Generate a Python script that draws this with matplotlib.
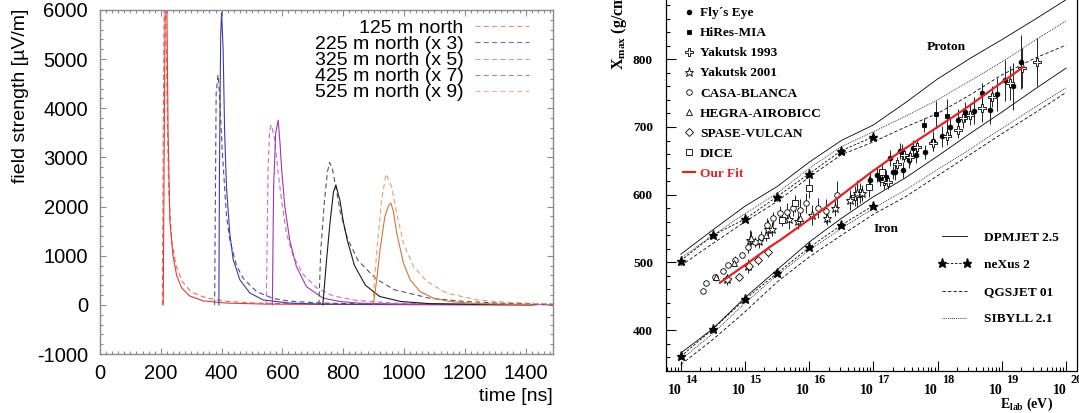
import numpy as np
import matplotlib
matplotlib.use("Agg")
import matplotlib.pyplot as plt
from matplotlib import font_manager
from matplotlib.lines import Line2D
from matplotlib.ticker import MultipleLocator, FixedLocator, LogLocator, NullFormatter

W, H = 1079, 413
PX = 72.0 / 100  # points per pixel (dpi 100)

# ---------------- left panel: radio pulses, time [ns] / field strength [uV/m] ----------------
pulse_labels = ["125 m north", "225 m north (x 3)", "325 m north (x 5)",
                "425 m north (x 7)", "525 m north (x 9)"]

t125_solid = [208, 212, 216, 220, 224, 230, 240, 252, 268, 295, 340, 420, 550, 800, 1100, 1425]
v125_solid = [0, 4000, 7600, 6000, 3500, 1700, 1000, 600, 350, 180, 80, 35, 15, 8, 4, 2]
t125_dash = [205, 208, 212, 216, 220, 226, 236, 250, 270, 300, 350, 420, 520, 700, 1000, 1490]
v125_dash = [0, 3500, 7000, 6400, 4200, 2300, 1300, 800, 480, 260, 140, 70, 35, 15, 8, 4]

t225_solid = [391, 393, 397, 400, 405, 410, 416, 427, 438, 460, 493, 537, 624, 734, 900, 1425]
v225_solid = [0, 2800, 5500, 5950, 5200, 3500, 2400, 1450, 920, 510, 240, 100, 35, 15, 8, 4]
t225_dash = [377, 382, 388, 393, 402, 416, 427, 449, 471, 515, 570, 624, 734, 900, 1200, 1490]
v225_dash = [0, 4300, 4680, 4300, 3150, 1800, 1320, 800, 540, 270, 130, 75, 36, 16, 8, 5]

t325_solid = [567, 571, 578, 586, 592, 597, 608, 624, 646, 679, 734, 790, 850, 1000, 1425]
v325_solid = [0, 2400, 3500, 3760, 3300, 2800, 2000, 1320, 780, 370, 136, 68, 35, 10, 3]
t325_dash = [547, 553, 558, 564, 575, 586, 597, 613, 635, 668, 712, 767, 844, 954, 1100, 1490]
v325_dash = [0, 2800, 3560, 3660, 3350, 2680, 2140, 1460, 1000, 620, 350, 180, 90, 40, 15, 5]

t425_solid = [733, 745, 757, 768, 776, 790, 800, 814, 837, 873, 920, 990, 1084, 1250, 1425]
v425_solid = [0, 900, 1700, 2300, 2440, 2100, 1700, 1300, 800, 400, 170, 68, 25, 10, 4]
t425_dash = [720, 726, 738, 748, 755, 765, 777, 790, 814, 849, 908, 967, 1084, 1202, 1319, 1490]
v425_dash = [0, 1100, 2100, 2700, 2900, 2750, 2350, 1900, 1350, 900, 530, 310, 135, 68, 34, 15]

t525_solid = [899, 910, 921, 937, 950, 957, 965, 976, 998, 1020, 1053, 1097, 1152, 1240, 1350, 1425]
v525_solid = [0, 500, 1120, 1800, 2030, 2070, 1900, 1460, 850, 510, 270, 136, 68, 25, 10, 5]
t525_dash = [897, 904, 910, 926, 941, 959, 976, 998, 1031, 1075, 1141, 1240, 1350, 1490]
v525_dash = [0, 600, 1050, 2140, 2665, 2410, 1865, 1250, 780, 475, 237, 102, 47, 20]

solid_colors = ["#e23b3b", "#3d3d9e", "#9a3ca6", "#1a1a1a", "#d2753a"]
dash_colors = ["#e46a5a", "#4a4aa8", "#cc66cc", "#555555", "#e2a070"]
legend_colors = ["#e88a80", "#6a6ab8", "#d88ad8", "#909090", "#e8b090"]

time_ticks = [0, 200, 400, 600, 800, 1000, 1200, 1400]
field_ticks = [-1000, 0, 1000, 2000, 3000, 4000, 5000, 6000]

# ---------------- right panel: Xmax vs energy (log10 E / g cm^-2) ----------------
fly_logE = [16.94, 17.05, 17.10, 17.20, 17.26, 17.31, 17.34, 17.42, 17.46, 17.56, 17.62, 17.67,
            17.81, 17.93, 18.07, 18.20, 18.31, 18.43, 18.56, 18.69, 18.82, 18.93, 19.05, 19.18, 19.30]
fly_X = [622, 629, 623, 626, 654, 633, 634, 664, 637, 651, 669, 659,
         663, 679, 686, 700, 711, 722, 724, 750, 725, 748, 769, 760, 796]
fly_err = [12, 10, 10, 10, 12, 10, 12, 12, 12, 12, 12, 12,
           10, 15, 15, 15, 15, 15, 20, 15, 20, 25, 30, 35, 40]

hires_logE = [17.45, 17.78, 17.97, 18.14]
hires_X = [663, 703, 719, 716]
hires_err = [12, 10, 20, 25]

yak93_logE = [16.71, 16.79, 17.16, 17.23, 17.36, 17.47, 17.57, 17.68, 17.93, 18.14,
              18.32, 18.40, 18.51, 18.69, 18.84, 19.13, 19.31, 19.55]
yak93_X = [598, 602, 620, 619, 646, 659, 656, 671, 676, 686,
           696, 713, 718, 728, 745, 765, 787, 796]
yak93_err = [15, 15, 12, 10, 10, 10, 10, 10, 12, 12, 12, 15, 15, 20, 15, 25, 30, 35]

yak01_logE = [14.72, 15.05, 15.08, 15.22, 15.36, 15.42, 15.68, 15.83, 16.05, 16.27, 16.40, 16.63, 16.74, 16.82]
yak01_X = [475, 495, 533, 531, 550, 549, 564, 561, 570, 565, 580, 592, 602, 603]
yak01_err = [8, 10, 15, 10, 12, 10, 15, 12, 15, 10, 12, 15, 20, 12]

casa_logE = [14.34, 14.39, 14.54, 14.65, 14.74, 14.85, 14.95, 15.04, 15.15, 15.25,
             15.34, 15.44, 15.55, 15.65, 15.75, 15.85, 15.95, 16.14, 16.26, 16.44]
casa_X = [458, 470, 479, 488, 496, 504, 511, 522, 530, 537,
          555, 565, 573, 575, 580, 578, 588, 580, 576, 600]
casa_err = [0, 0, 0, 0, 0, 5, 5, 8, 8, 10, 10, 10, 10, 12, 12, 15, 15, 15, 18, 20]

hegra_logE = [14.55, 14.83, 15.10, 15.32, 15.86]
hegra_X = [478, 499, 536, 541, 565]
hegra_err = [5, 5, 10, 10, 12]

spase_logE = [14.72, 14.90, 15.06, 15.21, 15.36]
spase_X = [475, 478, 494, 504, 516]
spase_err = [5, 5, 5, 8, 8]

dice_logE = [15.57, 15.78, 16.00, 16.93, 17.13]
dice_X = [563, 587, 610, 612, 633]
dice_err = [10, 12, 15, 15, 12]

fit_logE = [14.61, 15.00, 15.39, 15.55, 16.17, 16.95, 17.41, 18.40, 19.34]
fit_X = [470, 496, 523, 533, 575, 632, 663, 725, 789]

model_logE = [14, 14.5, 15, 15.5, 16, 16.5, 17, 17.5, 18, 18.5, 19, 19.5, 20]
dpm_p = [512, 548, 583, 612, 648, 680, 703, 736, 771, 801, 829, 858, 888]
dpm_fe = [366, 402, 448, 489, 530, 565, 597, 625, 657, 690, 722, 755, 787]
sib_p = [506, 540, 572, 602, 639, 671, 693, 716, 740, 768, 796, 827, 857]
sib_fe = [356, 395, 440, 481, 518, 550, 580, 607, 637, 667, 698, 728, 758]
qgs_p = [495, 528, 560, 590, 626, 659, 678, 700, 720, 747, 777, 801, 821]
qgs_fe = [349, 386, 427, 471, 508, 540, 571, 597, 628, 659, 690, 720, 751]

nexus_logE = [14, 14.5, 15, 15.5, 16, 16.5, 17]
nexus_p = [502.5, 540, 564, 597, 631, 665, 685.5]
nexus_fe = [361, 401.5, 445.5, 484, 522, 555, 584]

energy_decades = [14, 15, 16, 17, 18, 19, 20]
xmax_ticks = [400, 500, 600, 700, 800]

# ---------------- fonts ----------------
names = {f.name for f in font_manager.fontManager.ttflist}
if "Liberation Sans Narrow" in names:
    tick_font, tick_size = "Liberation Sans Narrow", 17.5
else:
    tick_font, tick_size = "Liberation Sans", 14.5
sans = "Liberation Sans"
serif = "Liberation Serif"
plt.rcParams["mathtext.fontset"] = "custom"
plt.rcParams["mathtext.rm"] = "Liberation Serif:bold"
plt.rcParams["mathtext.bf"] = "Liberation Serif:bold"
plt.rcParams["axes.unicode_minus"] = False

fig = plt.figure(figsize=(W / 100, H / 100), dpi=100)

# ================= left panel =================
ax1 = fig.add_axes([100 / W, 1 - 354 / H, 453 / W, 344 / H])
solids = [(t125_solid, v125_solid), (t225_solid, v225_solid), (t325_solid, v325_solid),
          (t425_solid, v425_solid), (t525_solid, v525_solid)]
dashes = [(t125_dash, v125_dash), (t225_dash, v225_dash), (t325_dash, v325_dash),
          (t425_dash, v425_dash), (t525_dash, v525_dash)]
for (t, v), c in zip(dashes, dash_colors):
    ax1.plot(t, v, color=c, lw=0.8, dashes=(4.5, 3.0))
for (t, v), c in zip(solids, solid_colors):
    ax1.plot(t, v, color=c, lw=0.8)

ax1.set_xlim(0, 1490)
ax1.set_ylim(-1000, 6000)
ax1.set_xticks(time_ticks, labels=[str(v) for v in time_ticks])
ax1.set_yticks(field_ticks, labels=[str(v) for v in field_ticks])
ax1.xaxis.set_minor_locator(MultipleLocator(20))
ax1.yaxis.set_minor_locator(MultipleLocator(200))
frame = "#8a8a8a"
for s in ax1.spines.values():
    s.set_color(frame)
    s.set_linewidth(1.0)
ax1.tick_params(which="both", direction="in", top=True, right=True, color=frame, width=0.8)
ax1.tick_params(which="major", length=4.5)
ax1.tick_params(which="minor", length=2.3)
ax1.tick_params(axis="y", which="major", pad=8.6)
ax1.tick_params(axis="x", which="major", pad=7.0)
for lab in ax1.get_xticklabels() + ax1.get_yticklabels():
    lab.set_fontfamily(tick_font)
    lab.set_fontsize(tick_size)

handles = [Line2D([], [], color=c, lw=0.8, dashes=(4.5, 3.0)) for c in legend_colors]
leg1 = ax1.legend(handles, pulse_labels, loc="upper right", bbox_to_anchor=(0.946, 0.972),
                  frameon=False, markerfirst=False, borderpad=0, borderaxespad=0,
                  handlelength=2.75, handletextpad=0.6, labelspacing=-0.08,
                  prop={"family": sans, "size": 14})

fig.text(21 / W, 1 - 96 / H, "field strength [µV/m]", rotation=90, ha="center", va="center",
         family=sans, fontsize=14)
fig.text(553 / W, 1 - 401 / H, "time [ns]", ha="right", va="baseline", family=sans, fontsize=14)

# ================= right panel =================
ax2 = fig.add_axes([666 / W, 1 - 370.7 / H, 411 / W, 372.7 / H])
ax2.set_xscale("log")
ax2.set_xlim(10 ** 13.77, 10 ** 20.17)
ax2.set_ylim(340, 890.5)

E = lambda le: 10.0 ** np.asarray(le)
mlw = 0.6
dotted = (1.0, 1.3)
dashed = (4.0, 2.6)
h_dpm, = ax2.plot(E(model_logE), dpm_p, color="k", lw=mlw)
ax2.plot(E(model_logE), dpm_fe, color="k", lw=mlw)
h_sib, = ax2.plot(E(model_logE), sib_p, color="k", lw=mlw, dashes=dotted)
ax2.plot(E(model_logE), sib_fe, color="k", lw=mlw, dashes=dotted)
h_qgs, = ax2.plot(E(model_logE), qgs_p, color="k", lw=mlw, dashes=dashed)
ax2.plot(E(model_logE), qgs_fe, color="k", lw=mlw, dashes=dashed)
h_nex, = ax2.plot(E(nexus_logE), nexus_p, color="k", lw=mlw, dashes=(3, 2), marker="*",
                  ms=6.5, mfc="k", mec="k", zorder=4)
ax2.plot(E(nexus_logE), nexus_fe, color="k", lw=mlw, dashes=(3, 2), marker="*",
         ms=6.5, mfc="k", mec="k", zorder=4)

datasets = [
    (fly_logE, fly_X, fly_err, "o", 3.4, "k", "Fly´s Eye"),
    (hires_logE, hires_X, hires_err, "s", 3.4, "k", "HiRes-MIA"),
    (yak93_logE, yak93_X, yak93_err, "P", 6.0, "white", "Yakutsk 1993"),
    (yak01_logE, yak01_X, yak01_err, "*", 6.5, "white", "Yakutsk 2001"),
    (casa_logE, casa_X, casa_err, "o", 4.0, "white", "CASA-BLANCA"),
    (hegra_logE, hegra_X, hegra_err, "^", 4.0, "white", "HEGRA-AIROBICC"),
    (spase_logE, spase_X, spase_err, "D", 3.6, "white", "SPASE-VULCAN"),
    (dice_logE, dice_X, dice_err, "s", 4.4, "white", "DICE"),
]
data_handles = []
for le, x, err, mk, ms, fc, lab in datasets:
    ax2.errorbar(E(le), x, yerr=err, fmt="none", ecolor="k", elinewidth=0.6, capsize=0, zorder=3)
    h, = ax2.plot(E(le), x, ls="none", marker=mk, ms=ms, mfc=fc, mec="k", mew=0.6, zorder=5)
    data_handles.append((h, lab))

h_fit, = ax2.plot(E(fit_logE), fit_X, color="#e02424", lw=1.6, zorder=6)

# data legend (top left)
lh = [h for h, _ in data_handles] + [h_fit]
ll = [l for _, l in data_handles] + ["Our Fit"]
leg_d = ax2.legend(lh, ll, loc="upper left", bbox_to_anchor=(0.042, 0.976), frameon=False,
                   borderpad=0, borderaxespad=0, handlelength=0.9, handletextpad=0.35,
                   labelspacing=0.58, numpoints=1,
                   prop={"family": serif, "weight": "bold", "size": 9.6})
leg_d.get_texts()[-1].set_color("#e02424")
leg_d.legend_handles[-1].set_linewidth(1.6)
ax2.add_artist(leg_d)

# model legend (bottom right)
ax2.legend([h_dpm, h_nex, h_qgs, h_sib], ["DPMJET 2.5", "neXus 2", "QGSJET 01", "SIBYLL 2.1"],
           loc="upper left", bbox_to_anchor=(0.662, 0.374), frameon=False, borderpad=0,
           borderaxespad=0, handlelength=2.45, handletextpad=0.98, labelspacing=1.12,
           numpoints=2, prop={"family": serif, "weight": "bold", "size": 9.6})

ax2.text(10 ** 18.13, 818, "Proton", ha="center", va="center", family=serif,
         fontweight="bold", fontsize=9.6)
ax2.text(10 ** 17.19, 549, "Iron", ha="center", va="center", family=serif,
         fontweight="bold", fontsize=9.6)

# axes styling
ax2.set_yticks(xmax_ticks, labels=[str(v) for v in xmax_ticks])
ax2.yaxis.set_minor_locator(MultipleLocator(20))
ax2.xaxis.set_major_locator(FixedLocator([10.0 ** k for k in energy_decades]))
ax2.xaxis.set_major_formatter(NullFormatter())
ax2.xaxis.set_minor_locator(LogLocator(base=10, subs=np.arange(2, 10), numticks=20))
ax2.xaxis.set_minor_formatter(NullFormatter())
ax2.tick_params(which="both", direction="in", color="k", width=0.8)
ax2.tick_params(which="major", length=7.2)
ax2.tick_params(which="minor", length=3.2)
ax2.tick_params(axis="y", which="major", pad=9.4)
for lab in ax2.get_yticklabels():
    lab.set_fontfamily(serif)
    lab.set_fontweight("bold")
    lab.set_fontsize(9.6)
for s in ax2.spines.values():
    s.set_linewidth(0.9)

for k in energy_decades:
    ax2.annotate("10", xy=(10.0 ** k, 0), xycoords=("data", "axes fraction"),
                 xytext=(0.5 * PX, -23.8 * PX), textcoords="offset points", ha="right",
                 va="baseline", family=serif, fontweight="bold", fontsize=10,
                 annotation_clip=False)
    ax2.annotate(str(k), xy=(10.0 ** k, 0), xycoords=("data", "axes fraction"),
                 xytext=(4.0 * PX, -12.0 * PX), textcoords="offset points", ha="left",
                 va="baseline", family=serif, fontweight="bold", fontsize=8.8,
                 annotation_clip=False)

fig.text(1000 / W, 1 - 408 / H, r"E$_{\mathrm{lab}}$ (eV)", ha="left", va="baseline",
         family=serif, fontweight="bold", fontsize=10)
fig.text(618 / W, 1 - 70 / H, r"X$_{\mathrm{max}}$ (g/cm$^{\mathrm{2}}$)", rotation=90,
         ha="center", va="bottom", family=serif, fontweight="bold", fontsize=11.5)

fig.savefig("out.png", dpi=100)
